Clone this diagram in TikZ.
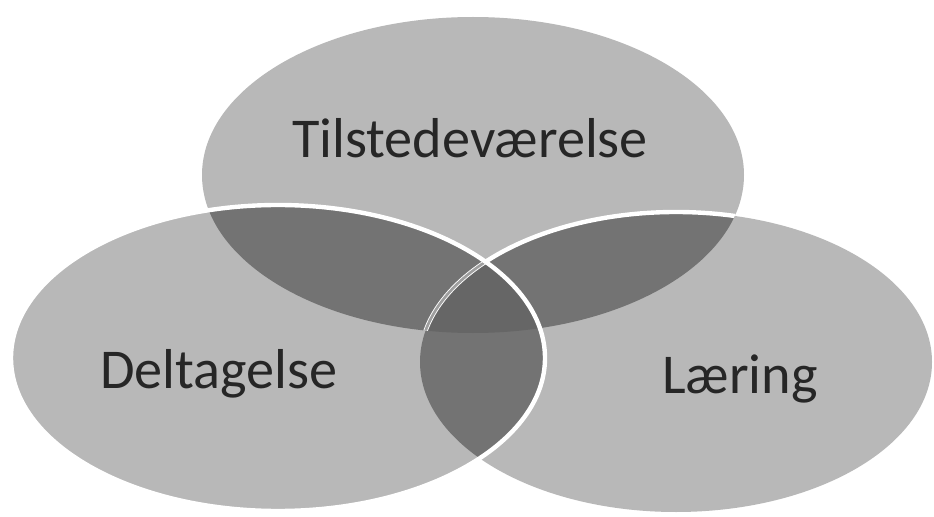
\documentclass[tikz,border=0pt]{standalone}
\usepackage{fontspec}
\setmainfont{Carlito}
\tikzset{
  single/.style={fill=black!28},
  double/.style={fill=black!55},
  triple/.style={fill=black!60},
  rim/.style={draw=white, line width=2.5pt},
  faintrim/.style={draw=black!38, line width=1.5pt},
  vennlabel/.style={font=\fontsize{32}{38}\selectfont, text=black!85, anchor=base}
}

\begin{document}
\begin{tikzpicture}[x=0.02cm,y=-0.02cm]
\fill[white] (0,0) rectangle (934,517);

% the three sets
\fill[single] (473,175) ellipse [x radius=271, y radius=158];
\fill[single] (278,358) ellipse [x radius=267, y radius=153];
\fill[single] (676,362) ellipse [x radius=256, y radius=150];

% overlaps of two
\begin{scope}
\clip (473,175) ellipse [x radius=271, y radius=158];
\fill[double] (278,358) ellipse [x radius=267, y radius=153];
\fill[double] (676,362) ellipse [x radius=256, y radius=150];
\end{scope}
\begin{scope}
\clip (278,358) ellipse [x radius=267, y radius=153];
\fill[double] (676,362) ellipse [x radius=256, y radius=150];
\end{scope}

% overlap of all three
\begin{scope}
\clip (473,175) ellipse [x radius=271, y radius=158];
\clip (278,358) ellipse [x radius=267, y radius=153];
\fill[triple] (676,362) ellipse [x radius=256, y radius=150];
\end{scope}

% white edges
\begin{scope}
\clip (473,175) ellipse [x radius=271, y radius=158];
\draw[rim] (676,362) ellipse [x radius=256, y radius=150];
\clip (278,358) ellipse [x radius=267, y radius=153];
\draw[faintrim] (676,362) ellipse [x radius=256, y radius=150];
\end{scope}
\draw[rim] (278,358) ellipse [x radius=267, y radius=153];

\node[vennlabel] (tilst) at (470,158) {Tilstedeværelse};
\node[vennlabel] (delt) at (219,388) {Deltagelse};
\node[vennlabel] (laer) at (740,393) {Læring};
\end{tikzpicture}
\end{document}
